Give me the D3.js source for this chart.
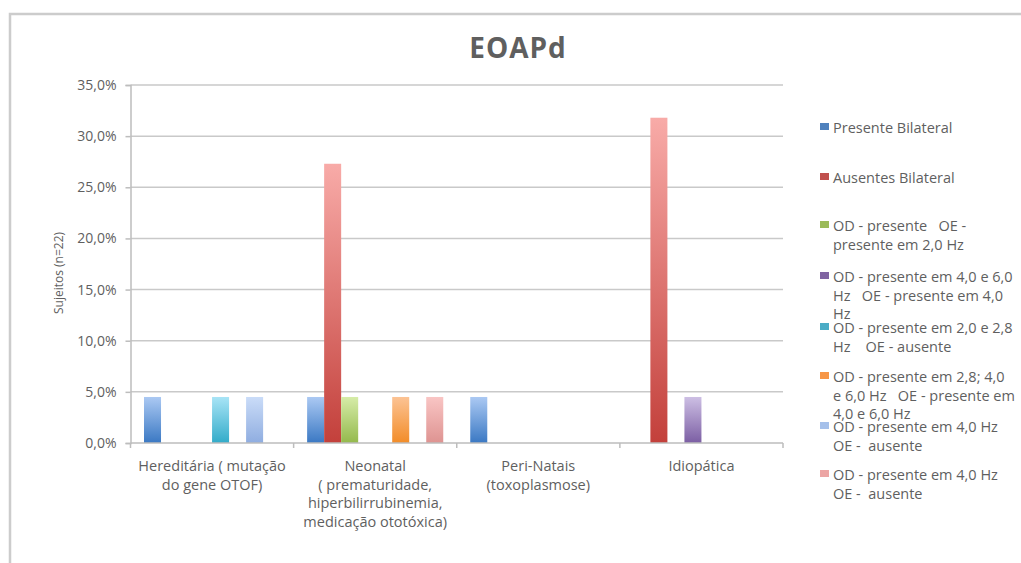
<!DOCTYPE html>
<html>
<head>
<meta charset="utf-8">
<script src="https://cdn.jsdelivr.net/npm/d3@7"></script>
<style>
  html, body { margin: 0; padding: 0; background: #fff; }
  svg { display: block; font-family: "Open Sans", sans-serif; }
  svg text { white-space: pre; }
</style>
</head>
<body>
<svg id="chart" width="1021" height="563"></svg>
<script>
// categories (x axis), one label line per entry
const categories = ["Hereditária", "Neonatal", "Peri-Natais", "Idiopática"];
const categoryLines = [
  ["Hereditária ( mutação", "do gene OTOF)"],
  ["Neonatal", "( prematuridade,", "hiperbilirrubinemia,", "medicação ototóxica)"],
  ["Peri-Natais", "(toxoplasmose)"],
  ["Idiopática"]
];

// series (legend order), label lines as they wrap in the picture
const seriesLines = [
  ["Presente Bilateral"],
  ["Ausentes Bilateral"],
  ["OD - presente   OE -", "presente em 2,0 Hz"],
  ["OD - presente em 4,0 e 6,0", "Hz   OE - presente em 4,0", "Hz"],
  ["OD - presente em 2,0 e 2,8", "Hz    OE - ausente"],
  ["OD - presente em 2,8; 4,0", "e 6,0 Hz   OE - presente em", "4,0 e 6,0 Hz"],
  ["OD - presente em 4,0 Hz", "OE -  ausente"],
  ["OD - presente em 4,0 Hz", "OE -  ausente"]
];

// values in % per series, one per category
const presenteBilateral = [4.5, 4.5, 4.5, 0];
const ausentesBilateral = [0, 27.3, 0, 31.8];
const odPresente20 = [0, 4.5, 0, 0];
const odPresente4060 = [0, 0, 0, 4.5];
const odPresente2028 = [4.5, 0, 0, 0];
const odPresente284060 = [0, 4.5, 0, 0];
const odPresente40a = [4.5, 0, 0, 0];
const odPresente40b = [0, 4.5, 0, 0];
const seriesValues = [presenteBilateral, ausentesBilateral, odPresente20, odPresente4060,
  odPresente2028, odPresente284060, odPresente40a, odPresente40b];

const yTicks = [0, 5, 10, 15, 20, 25, 30, 35];

// gradient colours (top, bottom) and legend swatch colour
const barTop = ["#abc9f3", "#f8aba8", "#d6eca8", "#cdbfe4", "#a8e4f6", "#fcc394", "#cadcf8", "#f9c5c4"];
const barBottom = ["#3a78c3", "#c3403b", "#94b94c", "#7b5ea3", "#32abc9", "#f28c28", "#8fade0", "#de9391"];
const swatch = ["#4f81bd", "#c0504d", "#9bbb59", "#8064a2", "#4bacc6", "#f79646", "#a5c0ea", "#eca5a4"];

const svg = d3.select("#chart");
const textColor = "#5f5f5f";

// outer frame
svg.append("path")
  .attr("d", "M10,563 V14 H1021")
  .attr("fill", "none")
  .attr("stroke", "#cccccc")
  .attr("stroke-width", 2.5);

const plot = { left: 130.5, right: 783, top: 85, bottom: 443 };

const x = d3.scaleBand()
  .domain(categories)
  .range([plot.left, plot.right])
  .paddingInner(0)
  .paddingOuter(0);

const xs = d3.scaleBand()
  .domain(d3.range(seriesValues.length))
  .range([13.5, x.bandwidth() - 13.5])
  .padding(0);

const y = d3.scaleLinear().domain([0, 35]).range([plot.bottom, plot.top]);

// gridlines
svg.append("g")
  .selectAll("line")
  .data(yTicks.slice(1))
  .join("line")
  .attr("x1", plot.left).attr("x2", plot.right)
  .attr("y1", d => y(d)).attr("y2", d => y(d))
  .attr("stroke", "#c9c9c9")
  .attr("stroke-width", 1.5);

// y axis
const yAxis = svg.append("g")
  .attr("transform", `translate(${plot.left},0)`)
  .call(d3.axisLeft(y).tickValues(yTicks).tickSize(5).tickPadding(9)
    .tickFormat(d => d3.format(".1f")(d).replace(".", ",") + "%"));
yAxis.select(".domain").attr("stroke", "#bdbdbd").attr("stroke-width", 1.5);
yAxis.selectAll(".tick line").attr("stroke", "#bdbdbd").attr("stroke-width", 1.5);
yAxis.selectAll(".tick text")
  .attr("fill", textColor)
  .style("font-size", "14px")
  .style("font-family", "'Open Sans', sans-serif");

svg.append("text")
  .attr("transform", `translate(63,273) rotate(-90)`)
  .attr("text-anchor", "middle")
  .attr("fill", textColor)
  .style("font-size", "12px")
  .text("Sujeitos (n=22)");

// gradients
const defs = svg.append("defs");
barTop.forEach((c, i) => {
  const g = defs.append("linearGradient")
    .attr("id", "grad" + i)
    .attr("x1", 0).attr("y1", 0).attr("x2", 0).attr("y2", 1);
  g.append("stop").attr("offset", "0%").attr("stop-color", c);
  g.append("stop").attr("offset", "100%").attr("stop-color", barBottom[i]);
});

// bars
const bars = [];
seriesValues.forEach((vals, s) => {
  vals.forEach((v, c) => {
    if (v > 0) bars.push({ s, cat: categories[c], v });
  });
});
svg.append("g")
  .selectAll("rect")
  .data(bars)
  .join("rect")
  .attr("x", d => x(d.cat) + xs(d.s))
  .attr("width", xs.bandwidth())
  .attr("y", d => y(d.v))
  .attr("height", d => y(0) - y(d.v))
  .attr("fill", d => `url(#grad${d.s})`);

// x axis
const xAxis = svg.append("g")
  .attr("transform", `translate(0,${plot.bottom})`);
xAxis.append("line")
  .attr("x1", plot.left).attr("x2", plot.right)
  .attr("stroke", "#bdbdbd").attr("stroke-width", 1.5);
xAxis.selectAll("line.tick")
  .data(categories.map(c => x(c)).concat([plot.right]))
  .join("line")
  .attr("class", "tick")
  .attr("x1", d => d).attr("x2", d => d)
  .attr("y1", 0).attr("y2", 5)
  .attr("stroke", "#bdbdbd").attr("stroke-width", 1.5);

const xl = svg.append("g")
  .selectAll("text")
  .data(categories)
  .join("text")
  .attr("text-anchor", "middle")
  .attr("fill", textColor)
  .style("font-size", "14.5px");
xl.selectAll("tspan")
  .data((d, i) => categoryLines[i].map(t => ({ t, cx: x(d) + x.bandwidth() / 2 })))
  .join("tspan")
  .attr("x", d => d.cx)
  .attr("y", (d, i) => 471 + i * 18.5)
  .text(d => d.t);

// title
svg.append("text")
  .attr("x", 518)
  .attr("y", 58)
  .attr("text-anchor", "middle")
  .attr("fill", textColor)
  .style("font-size", "28px")
  .style("letter-spacing", "1px")
  .style("font-weight", "bold")
  .text("EOAPd");

// legend
const legendY = [128, 178, 226, 277, 328, 377, 427, 475];
const leg = svg.append("g")
  .selectAll("g")
  .data(seriesLines)
  .join("g")
  .attr("transform", (d, i) => `translate(820,${legendY[i]})`);
leg.append("rect")
  .attr("x", 0).attr("y", -5)
  .attr("width", 9).attr("height", 7)
  .attr("fill", (d, i) => swatch[i]);
leg.append("text")
  .attr("fill", textColor)
  .style("font-size", "14.5px")
  .selectAll("tspan")
  .data(d => d)
  .join("tspan")
  .attr("x", 13)
  .attr("y", (d, i) => 5 + i * 18.5)
  .text(d => d);
</script>
</body>
</html>
